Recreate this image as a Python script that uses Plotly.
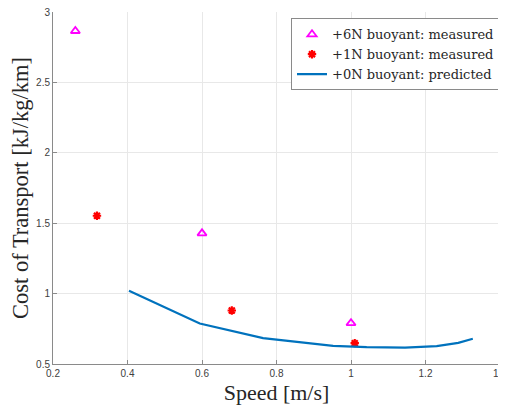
import plotly.graph_objects as go

# +6N buoyant: measured
speed_6n = [0.26, 0.60, 1.00]
cot_6n = [2.865, 1.428, 0.790]

# +1N buoyant: measured
speed_1n = [0.318, 0.68, 1.01]
cot_1n = [1.553, 0.880, 0.648]

# +0N buoyant: predicted
speed_0n = [0.404, 0.594, 0.764, 0.952, 1.042, 1.145, 1.230, 1.288, 1.327]
cot_0n = [1.021, 0.788, 0.684, 0.629, 0.620, 0.617, 0.627, 0.650, 0.679]

x_ticks = [0.2, 0.4, 0.6, 0.8, 1.0, 1.2, 1.4]
x_ticklabels = ["0.2", "0.4", "0.6", "0.8", "1", "1.2", "1.4"]
y_ticks = [0.5, 1.0, 1.5, 2.0, 2.5, 3.0]
y_ticklabels = ["0.5", "1", "1.5", "2", "2.5", "3"]

serif = "Liberation Serif"
sans = "Liberation Sans"

fig = go.Figure()
fig.add_trace(go.Scatter(
    x=speed_6n, y=cot_6n, mode="markers", name="+6N buoyant: measured",
    marker=dict(symbol="triangle-up-open", size=8, color="#ff00ff",
                line=dict(width=1.8, color="#ff00ff")),
))
fig.add_trace(go.Scatter(
    x=speed_1n, y=cot_1n, mode="markers", name="+1N buoyant: measured",
    marker=dict(symbol="asterisk-open", size=7, color="#ff0000",
                line=dict(width=2.2, color="#ff0000")),
))
fig.add_trace(go.Scatter(
    x=speed_0n, y=cot_0n, mode="lines", name="+0N buoyant: predicted",
    line=dict(color="#0072bd", width=2.2),
))

# page body adds an 8px margin, so the figure is sized/margined to compensate
fig.update_layout(
    width=498, height=397,
    margin=dict(l=45, r=6, t=4, b=41, autoexpand=False),
    paper_bgcolor="white", plot_bgcolor="white",
    showlegend=True,
    legend=dict(
        x=1.0, y=0.982, xanchor="right", yanchor="top",
        bgcolor="white", bordercolor="#8a8a8a", borderwidth=1,
        font=dict(family="DejaVu Serif", size=13, color="#262626"),
        tracegroupgap=0, itemwidth=30,
    ),
    xaxis=dict(
        range=[0.2, 1.4], tickvals=x_ticks, ticktext=x_ticklabels,
        showgrid=True, gridcolor="#e8e8e8", gridwidth=1,
        showline=True, linecolor="#8a8a8a", linewidth=1,
        ticks="inside", ticklen=4, tickcolor="#8a8a8a",
        tickfont=dict(family=sans, size=10, color="#404040"),
        ticklabeloverflow="allow", automargin=True,
        zeroline=False, mirror=False,
        title=dict(text="Speed [m/s]", font=dict(family=serif, size=22, color="#262626"), standoff=7),
    ),
    yaxis=dict(
        range=[0.5, 3.0], tickvals=y_ticks, ticktext=y_ticklabels,
        showgrid=True, gridcolor="#e8e8e8", gridwidth=1,
        showline=True, linecolor="#8a8a8a", linewidth=1,
        ticks="inside", ticklen=4, tickcolor="#8a8a8a",
        tickfont=dict(family=sans, size=10, color="#404040"),
        ticklabeloverflow="allow", automargin=True,
        zeroline=False, mirror=False,
        title=dict(text="Cost of Transport [kJ/kg/km]", font=dict(family=serif, size=22.5, color="#262626"), standoff=3),
    ),
)

fig.write_html("out.html")
